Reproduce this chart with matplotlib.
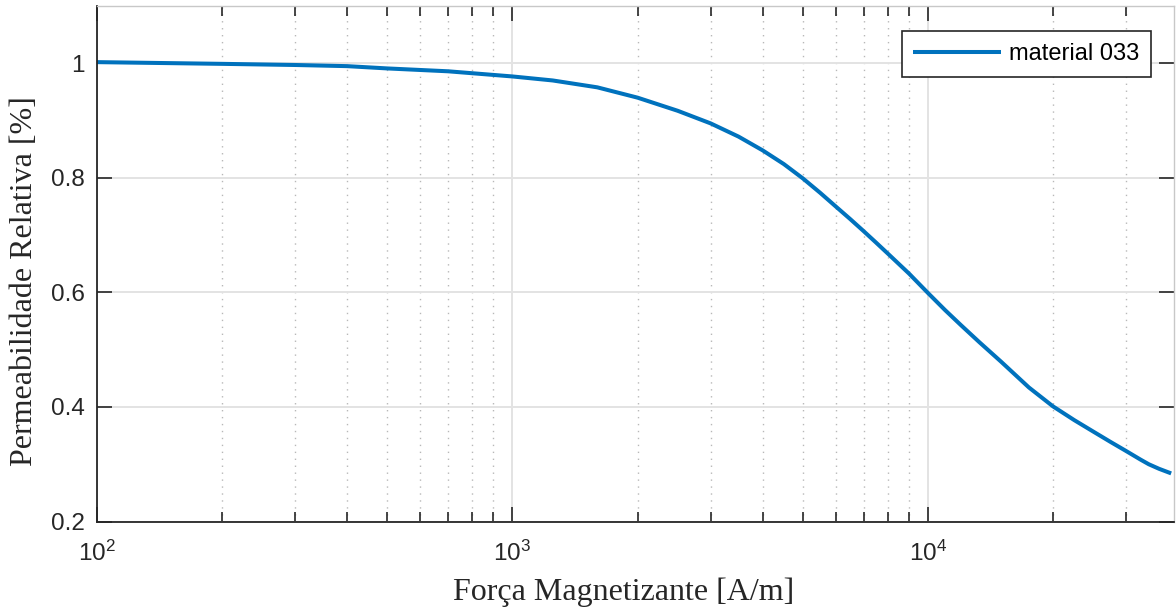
"""
Permeabilidade relativa vs força magnetizante (estilo MATLAB)
"""
import matplotlib
matplotlib.use("Agg")
import matplotlib.pyplot as plt
from matplotlib.ticker import LogLocator, NullFormatter

# ───────────── dados ─────────────
H = [100, 200, 300, 400, 500, 700, 1000, 1250, 1600, 2000, 2500,
     3000, 3500, 4000, 4500, 5000, 5500, 6000, 6500, 7000, 7500, 8000,
     9000, 10000, 11000, 12000, 13300, 15000, 17500, 20000, 22500, 25000,
     27500, 30000, 32500, 34000, 36000, 38500]
mu = [1.002, 0.999, 0.997, 0.995, 0.991, 0.986, 0.977, 0.970, 0.958,
      0.940, 0.917, 0.895, 0.872, 0.848, 0.824, 0.799, 0.774, 0.750, 0.728,
      0.707, 0.687, 0.668, 0.633, 0.599, 0.569, 0.543, 0.513, 0.479, 0.434,
      0.401, 0.377, 0.357, 0.339, 0.323, 0.308, 0.300, 0.292, 0.284]
serie_label = "material 033"
y_ticks = [0.2, 0.4, 0.6, 0.8, 1.0]
y_tick_labels = ["0.2", "0.4", "0.6", "0.8", "1"]
x_ticks = [1e2, 1e3, 1e4]
x_tick_labels = [r"$10^{2}$", r"$10^{3}$", r"$10^{4}$"]

plt.rcParams["font.family"] = ["Liberation Sans", "DejaVu Sans"]
plt.rcParams["mathtext.default"] = "regular"

W, Hpx = 1176, 615
fig = plt.figure(figsize=(W / 100, Hpx / 100), dpi=100)
ax = fig.add_axes([97 / W, 1 - 521.5 / Hpx, (1173.5 - 97) / W, (521.5 - 6) / Hpx])

ax.plot(H, mu, color="#0072BD", lw=2.9, label=serie_label,
        solid_capstyle="butt", solid_joinstyle="round")

ax.set_xscale("log")
ax.set_xlim(100, 39000)
ax.set_ylim(0.2, 1.1)

ax.set_yticks(y_ticks)
ax.set_yticklabels(y_tick_labels)
ax.set_xticks(x_ticks)
ax.set_xticklabels(x_tick_labels)
ax.xaxis.set_minor_locator(LogLocator(base=10, subs=range(2, 10), numticks=20))
ax.xaxis.set_minor_formatter(NullFormatter())

# grades
ax.grid(True, which="major", color="#e3e3e3", lw=1.4, ls="-")
ax.grid(True, which="minor", axis="x", color="#b8b8b8", lw=1.0, ls=(0, (1, 4)))
ax.set_axisbelow(True)

# ticks para dentro, nos quatro lados
ax.tick_params(which="both", direction="in", top=True, right=True,
               color="#262626", width=1.2)
ax.tick_params(which="major", length=11, labelsize=17.5, labelcolor="#262626")
ax.tick_params(which="minor", length=7)
ax.tick_params(axis="x", pad=14)
ax.tick_params(axis="y", pad=9)

for s in ("left", "bottom"):
    ax.spines[s].set_color("#262626")
    ax.spines[s].set_linewidth(1.3)
for s in ("top", "right"):
    ax.spines[s].set_color("#c8c8c8")
    ax.spines[s].set_linewidth(1.0)

ax.set_xlabel("Força Magnetizante [A/m]", family="Liberation Serif",
              fontsize=23, color="#262626")
ax.xaxis.set_label_coords((624 - 97) / 1076.5, -0.109)
ax.set_ylabel("Permeabilidade Relativa [%]", family="Liberation Serif",
              fontsize=23, color="#262626")
ax.yaxis.set_label_coords(-0.054, (521.5 - 281) / 515.5)

leg = ax.legend(loc="upper right", bbox_to_anchor=(1151 / W, 1 - 31 / Hpx),
                bbox_transform=fig.transFigure, borderaxespad=0,
                fontsize=17, handlelength=3.7, handletextpad=0.35,
                borderpad=0.5, fancybox=False, framealpha=1,
                edgecolor="#262626")
leg.get_frame().set_linewidth(1.2)

fig.savefig("out.png", dpi=100)
